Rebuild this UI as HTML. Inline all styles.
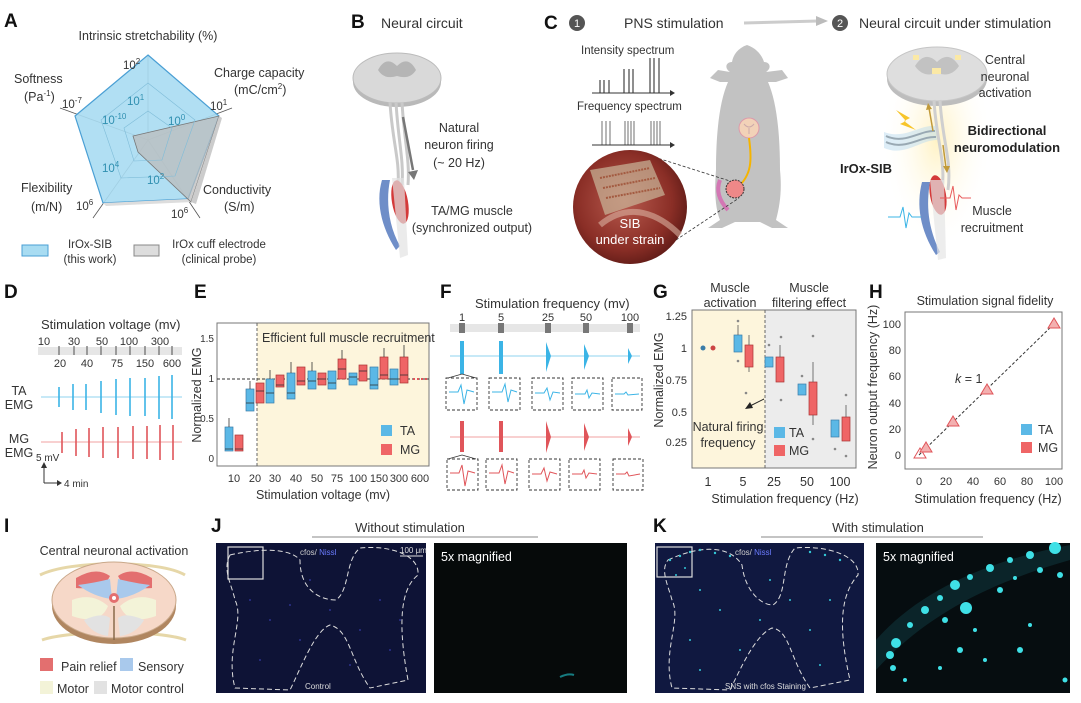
<!DOCTYPE html>
<html><head><meta charset="utf-8"><style>
html,body{margin:0;padding:0;background:#fff}
svg{display:block}
text{font-family:"Liberation Sans",sans-serif;fill:#333}
.L{font-family:"Liberation Sans Narrow","Liberation Sans",sans-serif;font-weight:bold;font-size:19px;fill:#111}
.t{font-size:12.5px}
.s{font-size:11.5px}
.ax{font-size:11px}
</style></head><body>
<svg width="1081" height="703" viewBox="0 0 1081 703" xmlns="http://www.w3.org/2000/svg">
<!-- ===== A ===== -->
<text class="L" x="4" y="27">A</text>
<text class="t" x="148" y="40" text-anchor="middle">Intrinsic stretchability (%)</text>
<text class="t" x="14" y="83">Softness</text>
<text class="t" x="24" y="101">(Pa<tspan font-size="8" dy="-5">-1</tspan><tspan dy="5">)</tspan></text>
<text class="t" x="214" y="77">Charge capacity</text>
<text class="t" x="234" y="94">(mC/cm<tspan font-size="8" dy="-5">2</tspan><tspan dy="5">)</tspan></text>
<text class="t" x="21" y="192">Flexibility</text>
<text class="t" x="31" y="211">(m/N)</text>
<text class="t" x="203" y="194">Conductivity</text>
<text class="t" x="224" y="211">(S/m)</text>
<g stroke="#555" stroke-width="0.8">
<line x1="148" y1="140" x2="148" y2="55"/><line x1="148" y1="140" x2="232" y2="108"/><line x1="148" y1="140" x2="60" y2="108"/><line x1="148" y1="140" x2="93" y2="218"/><line x1="148" y1="140" x2="200" y2="218"/>
</g>
<polygon points="148,55 219,116 188,199 103,203 75,116" fill="#a8dcf2" stroke="#4a9fd4" stroke-width="1.2" fill-opacity="0.9"/>
<polygon points="103,203 188,199 193,202 106,206" fill="#ddd"/>
<polygon points="133,136 219,116 191,202 138,152" fill="#bcbcbc" fill-opacity="0.75" stroke="#777" stroke-width="0.8"/>
<polygon points="219,116 222,118 196,204 191,202" fill="#ccc"/>
<g stroke="#7fbcd8" stroke-width="0.6" fill="none"><polygon points="148,83 195,120 175,176 121,178 101,120"/><polygon points="148,111 172,128 162,160 134,161 124,128"/></g>
<g class="s"><text x="123" y="69">10<tspan font-size="8" dy="-5">2</tspan></text><text x="210" y="110">10<tspan font-size="8" dy="-5">1</tspan></text><text x="62" y="108">10<tspan font-size="8" dy="-5">-7</tspan></text><text x="76" y="210">10<tspan font-size="8" dy="-5">6</tspan></text><text x="171" y="218">10<tspan font-size="8" dy="-5">6</tspan></text></g>
<g class="s"><text x="127" y="105" style="fill:#2f8fb0">10<tspan font-size="8" dy="-5">1</tspan></text><text x="102" y="124" style="fill:#2f8fb0">10<tspan font-size="8" dy="-5">-10</tspan></text><text x="168" y="125" style="fill:#2f8fb0">10<tspan font-size="8" dy="-5">0</tspan></text><text x="102" y="172" style="fill:#2f8fb0">10<tspan font-size="8" dy="-5">4</tspan></text><text x="147" y="184" style="fill:#2f8fb0">10<tspan font-size="8" dy="-5">2</tspan></text></g>
<rect x="22" y="245" width="26" height="11" fill="#a8dcf2" stroke="#4a9fd4"/>
<text class="s" x="90" y="248" text-anchor="middle">IrOx-SIB</text><text class="s" x="90" y="263" text-anchor="middle">(this work)</text>
<rect x="134" y="245" width="25" height="11" fill="#ddd" stroke="#888"/>
<text class="s" x="219" y="248" text-anchor="middle">IrOx cuff electrode</text><text class="s" x="219" y="263" text-anchor="middle">(clinical probe)</text>
<!-- ===== B ===== -->
<text class="L" x="351" y="28">B</text>
<text x="381" y="28" style="font-size:14px">Neural circuit</text>
<ellipse cx="397" cy="82" rx="44" ry="25" fill="#b9b9b9"/>
<ellipse cx="397" cy="78" rx="44" ry="25" fill="#d9d9d9" stroke="#bbb"/>
<path d="M378 70 q8 -15 19 -4 q11 -11 19 4 q-6 10 -19 6 q-13 4 -19 -6z" fill="#b5b5b5"/>
<path d="M390 102 C392 140 400 160 398 185 M396 102 C398 140 404 160 402 185 M402 102 C404 140 410 160 408 185" stroke="#c9c9c9" stroke-width="3" fill="none"/>
<path d="M403 117 L413 170" stroke="#777" stroke-width="2.5"/><polygon points="408,172 418,170 414,180" fill="#777"/>
<text class="t" x="459" y="132" text-anchor="middle">Natural</text><text class="t" x="459" y="149" text-anchor="middle">neuron firing</text><text class="t" x="459" y="167" text-anchor="middle">(~ 20 Hz)</text>
<path d="M382 180 C376 200 380 225 396 250 L400 246 C388 225 386 200 390 180Z" fill="#6f8ec8"/>
<ellipse cx="400" cy="202" rx="8" ry="22" fill="#d43a3a" transform="rotate(-10 400 202)"/>
<path d="M392 178 L404 178 L408 255 L400 258Z" fill="#e3e3e3" opacity="0.7"/>
<text class="t" x="472" y="215" text-anchor="middle">TA/MG muscle</text><text class="t" x="472" y="232" text-anchor="middle">(synchronized output)</text>
<!-- ===== C ===== -->
<text class="L" x="544" y="29">C</text>
<circle cx="577" cy="23" r="8" fill="#555"/><text x="577" y="27" text-anchor="middle" style="fill:#fff;font-size:11px">1</text>
<text x="624" y="28" style="font-size:14px">PNS stimulation</text>
<path d="M744 23 L818 21" stroke="#ccc" stroke-width="3"/><polygon points="816,16 828,21 816,26" fill="#bbb"/>
<circle cx="840" cy="23" r="8" fill="#555"/><text x="840" y="27" text-anchor="middle" style="fill:#fff;font-size:11px">2</text>
<text x="859" y="28" style="font-size:14px">Neural circuit under stimulation</text>
<text class="s" x="581" y="54">Intensity spectrum</text>
<g stroke="#333" stroke-width="1.1"><line x1="592" y1="93" x2="670" y2="93"/>
<line x1="600" y1="93" x2="600" y2="80"/><line x1="604" y1="93" x2="604" y2="80"/><line x1="609" y1="93" x2="609" y2="80"/>
<line x1="624" y1="93" x2="624" y2="69"/><line x1="629" y1="93" x2="629" y2="69"/><line x1="633" y1="93" x2="633" y2="69"/>
<line x1="650" y1="93" x2="650" y2="58"/><line x1="654" y1="93" x2="654" y2="58"/><line x1="659" y1="93" x2="659" y2="58"/>
<line x1="592" y1="145" x2="670" y2="145"/></g>
<g stroke="#333" stroke-width="0.7">
<line x1="602" y1="145" x2="602" y2="121"/><line x1="606" y1="145" x2="606" y2="121"/><line x1="610" y1="145" x2="610" y2="121"/>
<line x1="625" y1="145" x2="625" y2="121"/><line x1="628" y1="145" x2="628" y2="121"/><line x1="631" y1="145" x2="631" y2="121"/><line x1="634" y1="145" x2="634" y2="121"/>
<line x1="651" y1="145" x2="651" y2="121"/><line x1="654" y1="145" x2="654" y2="121"/><line x1="657" y1="145" x2="657" y2="121"/><line x1="660" y1="145" x2="660" y2="121"/></g>
<polygon points="670,90 675,93 670,96" fill="#333"/><polygon points="670,142 675,145 670,148" fill="#333"/>
<text class="s" x="577" y="110">Frequency spectrum</text>
<path d="M747 45 C738 48 733 55 732 62 C726 62 724 68 730 72 L718 70 L710 78 L720 82 L728 82 C720 100 716 130 716 170 C714 195 716 210 720 220 L708 228 L722 228 L735 222 L760 222 L772 228 L788 228 L776 220 C780 205 782 190 780 170 C780 130 776 100 768 82 L776 82 L788 78 L782 70 L766 72 C772 68 770 62 764 62 C762 55 756 48 747 45Z" fill="#c2c2c2"/>
<circle cx="749" cy="128" r="10" fill="#f2d2b8" stroke="#d9a"/><path d="M744 124 q5 6 10 0 M749 128 v6" stroke="#caa" fill="none"/>
<path d="M749 138 C752 160 752 175 737 188" stroke="#f5b400" stroke-width="2" fill="none"/>
<circle cx="735" cy="189" r="9" fill="#e88" stroke="#333" stroke-dasharray="2,1"/>
<path d="M720 180 q-6 15 8 30" stroke="#d4a" stroke-width="4" fill="none" opacity="0.6"/>
<line x1="654" y1="157" x2="730" y2="181" stroke="#333" stroke-dasharray="3,2" stroke-width="0.8"/>
<line x1="676" y1="240" x2="739" y2="198" stroke="#333" stroke-dasharray="3,2" stroke-width="0.8"/>
<defs><radialGradient id="ph" cx="0.45" cy="0.45" r="0.6"><stop offset="0" stop-color="#b85a4e"/><stop offset="0.7" stop-color="#8a2e26"/><stop offset="1" stop-color="#5c1a16"/></radialGradient>
<radialGradient id="gl" cx="0.5" cy="0.5" r="0.5"><stop offset="0" stop-color="#fff2c4"/><stop offset="1" stop-color="#fff" stop-opacity="0"/></radialGradient></defs>
<circle cx="630" cy="207" r="57" fill="url(#ph)"/>
<path d="M590 170 L650 160 L665 195 L605 215Z" fill="#c9b79a" opacity="0.7"/>
<path d="M600 178 L650 168 M603 188 L655 178 M606 198 L660 188" stroke="#a35a40" stroke-width="2" stroke-dasharray="2,1"/>
<path d="M600 225 C630 200 660 215 680 235" stroke="#d9b0a0" stroke-width="6" fill="none" opacity="0.6"/>
<text x="630" y="228" text-anchor="middle" style="fill:#fff;font-size:13px">SIB</text>
<text x="630" y="244" text-anchor="middle" style="fill:#fff;font-size:13px">under strain</text>
<!-- C2 -->
<ellipse cx="937" cy="140" rx="55" ry="110" fill="url(#gl)"/>
<ellipse cx="937" cy="79" rx="50" ry="27" fill="#bdbdbd"/>
<ellipse cx="937" cy="74" rx="50" ry="27" fill="#dedede" stroke="#c5c5c5"/>
<path d="M915 66 q10 -16 22 -4 q12 -12 22 4 q-8 12 -22 7 q-14 5 -22 -7z" fill="#c2c2c2"/>
<rect x="932" y="68" width="9" height="6" fill="#fbe9a6"/><rect x="913" y="55" width="6" height="5" fill="#fbe9a6"/><rect x="955" y="55" width="6" height="5" fill="#fbe9a6"/>
<path d="M934 100 C936 140 946 160 942 190 M940 100 C942 140 952 160 948 190" stroke="#cfcfcf" stroke-width="3" fill="none"/>
<path d="M886 136 C905 145 920 130 935 131 M886 142 C905 151 920 136 936 137" stroke="#777" stroke-width="2" fill="none"/>
<path d="M884 132 C905 140 920 124 936 126 L937 140 C920 140 905 157 884 148Z" fill="#bcdcf0" opacity="0.5"/>
<polygon points="896,110 910,118 904,121 916,130 900,124 906,121" fill="#f7c52a"/>
<path d="M933 131 L929 108" stroke="#c19a3a" stroke-width="1.5"/><polygon points="926,110 928,103 932,109" fill="#c19a3a"/>
<path d="M943 145 L946 168" stroke="#c19a3a" stroke-width="1.5"/><polygon points="943,166 947,173 950,166" fill="#c19a3a"/>
<path d="M922 182 C916 205 920 230 936 255 L940 252 C928 228 926 205 930 182Z" fill="#6f8ec8"/>
<ellipse cx="938" cy="195" rx="8" ry="20" fill="#d43a3a" transform="rotate(-10 938 195)"/>
<path d="M930 180 L944 180 L946 258 L938 260Z" fill="#e5e5e5" opacity="0.7"/>
<path d="M940 198 L950 198 L953 186 L956 210 L959 195 L962 198 L971 198" stroke="#e85b5b" stroke-width="1" fill="none"/>
<path d="M888 217 L900 217 L903 207 L906 228 L909 213 L912 217 L921 217" stroke="#3bb4e6" stroke-width="1" fill="none"/>
<text class="t" x="1005" y="64" text-anchor="middle">Central</text><text class="t" x="1005" y="81" text-anchor="middle">neuronal</text><text class="t" x="1005" y="97" text-anchor="middle">activation</text>
<text x="1007" y="135" text-anchor="middle" style="font-size:13px;font-weight:bold;fill:#222">Bidirectional</text>
<text x="1007" y="152" text-anchor="middle" style="font-size:13px;font-weight:bold;fill:#222">neuromodulation</text>
<text x="840" y="173" style="font-size:13px;font-weight:bold;fill:#222">IrOx-SIB</text>
<text class="t" x="992" y="215" text-anchor="middle">Muscle</text><text class="t" x="992" y="232" text-anchor="middle">recruitment</text>
<!-- ===== D ===== -->
<text class="L" x="4" y="298">D</text>
<text x="41" y="329" style="font-size:13px">Stimulation voltage (mv)</text>
<rect x="38" y="347" width="144" height="8" fill="#e6e6e6"/>
<g stroke="#666" stroke-width="1.2"><line x1="59" y1="346" x2="59" y2="355"/><line x1="74" y1="346" x2="74" y2="355"/><line x1="87" y1="346" x2="87" y2="355"/><line x1="101" y1="346" x2="101" y2="355"/><line x1="116" y1="346" x2="116" y2="355"/><line x1="130" y1="346" x2="130" y2="355"/><line x1="145" y1="346" x2="145" y2="355"/><line x1="159" y1="346" x2="159" y2="355"/><line x1="172" y1="346" x2="172" y2="355"/></g>
<g class="ax" text-anchor="middle"><text x="44" y="345">10</text><text x="74" y="345">30</text><text x="102" y="345">50</text><text x="129" y="345">100</text><text x="160" y="345">300</text>
<text x="60" y="367">20</text><text x="87" y="367">40</text><text x="117" y="367">75</text><text x="145" y="367">150</text><text x="172" y="367">600</text></g>
<text class="t" x="19" y="395" text-anchor="middle">TA</text><text class="t" x="19" y="409" text-anchor="middle">EMG</text>
<text class="t" x="19" y="443" text-anchor="middle">MG</text><text class="t" x="19" y="457" text-anchor="middle">EMG</text>
<line x1="41" y1="397" x2="182" y2="397" stroke="#8fd3ef" stroke-width="1"/>
<g stroke="#3bb4e6" stroke-width="1.6"><line x1="59" y1="387" x2="59" y2="407"/><line x1="73" y1="384" x2="73" y2="410"/><line x1="86" y1="384" x2="86" y2="410"/><line x1="101" y1="381" x2="101" y2="413"/><line x1="116" y1="379" x2="116" y2="415"/><line x1="130" y1="378" x2="130" y2="416"/><line x1="145" y1="378" x2="145" y2="416"/><line x1="159" y1="376" x2="159" y2="419"/><line x1="172" y1="375" x2="172" y2="419"/></g>
<line x1="41" y1="442" x2="182" y2="442" stroke="#f2a0a0" stroke-width="1"/>
<g stroke="#e0555a" stroke-width="1.6"><line x1="62" y1="432" x2="62" y2="453"/><line x1="76" y1="429" x2="76" y2="456"/><line x1="89" y1="428" x2="89" y2="457"/><line x1="103" y1="427" x2="103" y2="458"/><line x1="118" y1="427" x2="118" y2="458"/><line x1="133" y1="426" x2="133" y2="459"/><line x1="147" y1="426" x2="147" y2="459"/><line x1="160" y1="425" x2="160" y2="460"/><line x1="173" y1="425" x2="173" y2="460"/></g>
<text x="36" y="461" style="font-size:10px">5 mV</text>
<path d="M44 483 L44 466 M44 483 L58 483" stroke="#333" stroke-width="1"/><polygon points="41,468 44,462 47,468" fill="#333"/><polygon points="57,480 62,483 57,486" fill="#333"/>
<text x="64" y="487" style="font-size:10px">4 min</text>
<!-- ===== E ===== -->
<text class="L" x="194" y="298">E</text>
<rect x="257" y="323" width="172" height="143" fill="#fdf5dc"/>
<rect x="217" y="323" width="212" height="143" fill="none" stroke="#777" stroke-width="1"/>
<line x1="257" y1="323" x2="257" y2="466" stroke="#666" stroke-dasharray="3,2"/>
<line x1="217" y1="379" x2="429" y2="379" stroke="#333" stroke-dasharray="3,2"/>
<text x="262" y="342" style="font-size:12.5px">Efficient full muscle recruitment</text>
<g style="font-size:10px" text-anchor="end"><text x="214" y="342">1.5</text><text x="214" y="382">1</text><text x="214" y="422">0.5</text><text x="214" y="462">0</text></g>
<text class="t" transform="translate(201 395) rotate(-90)" text-anchor="middle">Normalized EMG</text>
<g class="ax" text-anchor="middle"><text x="234" y="482">10</text><text x="255" y="482">20</text><text x="275" y="482">30</text><text x="296" y="482">40</text><text x="317" y="482">50</text><text x="337" y="482">75</text><text x="358" y="482">100</text><text x="379" y="482">150</text><text x="399" y="482">300</text><text x="420" y="482">600</text></g>
<text class="t" x="323" y="499" text-anchor="middle">Stimulation voltage (mv)</text>
<g fill="#5bb8e6" stroke="#3a7ca8" stroke-width="0.7">
<rect x="225" y="427" width="8" height="24"/><rect x="246" y="389" width="8" height="22"/><rect x="266" y="379" width="8" height="24"/><rect x="287" y="373" width="8" height="26"/><rect x="308" y="371" width="8" height="18"/><rect x="328" y="371" width="8" height="18"/><rect x="349" y="373" width="8" height="12"/><rect x="370" y="367" width="8" height="22"/><rect x="390" y="369" width="8" height="16"/></g>
<g fill="#ef6566" stroke="#a33" stroke-width="0.7">
<rect x="235" y="435" width="8" height="16"/><rect x="256" y="383" width="8" height="20"/><rect x="276" y="375" width="8" height="12"/><rect x="297" y="367" width="8" height="18"/><rect x="318" y="373" width="8" height="12"/><rect x="338" y="359" width="8" height="20"/><rect x="359" y="365" width="8" height="16"/><rect x="380" y="357" width="8" height="22"/><rect x="400" y="357" width="8" height="26"/></g>
<g stroke="#333" stroke-width="0.8"><line x1="225" y1="449" x2="233" y2="449"/><line x1="246" y1="403" x2="254" y2="403"/><line x1="266" y1="393" x2="274" y2="393"/><line x1="287" y1="393" x2="295" y2="393"/><line x1="308" y1="381" x2="316" y2="381"/><line x1="328" y1="383" x2="336" y2="383"/><line x1="349" y1="377" x2="357" y2="377"/><line x1="370" y1="385" x2="378" y2="385"/><line x1="390" y1="379" x2="398" y2="379"/>
<line x1="235" y1="449" x2="243" y2="449"/><line x1="256" y1="391" x2="264" y2="391"/><line x1="276" y1="385" x2="284" y2="385"/><line x1="297" y1="381" x2="305" y2="381"/><line x1="318" y1="379" x2="326" y2="379"/><line x1="338" y1="369" x2="346" y2="369"/><line x1="359" y1="371" x2="367" y2="371"/><line x1="380" y1="375" x2="388" y2="375"/><line x1="400" y1="375" x2="408" y2="375"/>
<line x1="229" y1="427" x2="229" y2="418"/><line x1="250" y1="389" x2="250" y2="381"/><line x1="270" y1="379" x2="270" y2="370"/><line x1="291" y1="373" x2="291" y2="362"/><line x1="312" y1="371" x2="312" y2="362"/><line x1="342" y1="359" x2="342" y2="350"/><line x1="384" y1="357" x2="384" y2="348"/><line x1="404" y1="357" x2="404" y2="345"/></g>
<line x1="413" y1="379" x2="428" y2="379" stroke="#e0555a" stroke-width="2" stroke-dasharray="2,2"/>
<rect x="381" y="425" width="11" height="11" fill="#5bb8e6"/><text class="t" x="400" y="435">TA</text>
<rect x="381" y="444" width="11" height="11" fill="#ef6566"/><text class="t" x="400" y="454">MG</text>
<!-- ===== F ===== -->
<text class="L" x="440" y="298">F</text>
<text x="475" y="308" style="font-size:13px">Stimulation frequency (mv)</text>
<g class="ax" text-anchor="middle"><text x="462" y="321">1</text><text x="501" y="321">5</text><text x="548" y="321">25</text><text x="586" y="321">50</text><text x="630" y="321">100</text></g>
<rect x="450" y="324" width="190" height="8" fill="#e6e6e6"/>
<g fill="#777"><rect x="459" y="323" width="6" height="10"/><rect x="498" y="323" width="6" height="10"/><rect x="545" y="323" width="6" height="10"/><rect x="583" y="323" width="6" height="10"/><rect x="627" y="323" width="6" height="10"/></g>
<line x1="450" y1="356" x2="640" y2="356" stroke="#8fd3ef"/>
<g fill="#3bb4e6"><rect x="460" y="341" width="4" height="33"/><rect x="499" y="341" width="4" height="33"/><path d="M546 342 L551 356 L546 372Z"/><path d="M584 344 L589 356 L584 370Z"/><path d="M628 348 L632 356 L628 364Z"/></g>
<line x1="450" y1="437" x2="640" y2="437" stroke="#f2a0a0"/>
<g fill="#e0555a"><rect x="460" y="421" width="4" height="31"/><rect x="499" y="421" width="4" height="31"/><path d="M546 421 L551 437 L546 453Z"/><path d="M584 423 L589 437 L584 451Z"/><path d="M628 428 L632 437 L628 446Z"/></g>
<path d="M448 378 L462 374 L476 378" stroke="#333" fill="none" stroke-width="0.8"/>
<path d="M448 459 L462 455 L476 459" stroke="#333" fill="none" stroke-width="0.8"/>
<g fill="none" stroke="#333" stroke-dasharray="3,2" stroke-width="0.9">
<rect x="446" y="378" width="31" height="32"/><rect x="489" y="378" width="31" height="32"/><rect x="532" y="378" width="31" height="32"/><rect x="572" y="378" width="31" height="32"/><rect x="612" y="378" width="30" height="32"/>
<rect x="447" y="459" width="31" height="31"/><rect x="486" y="459" width="31" height="31"/><rect x="529" y="459" width="31" height="31"/><rect x="569" y="459" width="31" height="31"/><rect x="613" y="459" width="30" height="31"/></g>
<g fill="none" stroke="#3bb4e6" stroke-width="1"><path d="M449 392 L458 392 L461 385 L464 404 L467 390 L474 392"/><path d="M492 392 L502 392 L505 384 L508 402 L511 390 L517 392"/><path d="M535 393 L544 393 L547 388 L550 400 L553 392 L560 393"/><path d="M575 394 L585 394 L587 390 L589 398 L592 393 L600 394"/><path d="M615 394 L624 394 L626 392 L628 395 L639 394"/></g>
<g fill="none" stroke="#e0555a" stroke-width="1"><path d="M450 473 L459 473 L462 465 L465 486 L468 471 L475 473"/><path d="M489 473 L499 473 L502 465 L505 484 L508 471 L514 473"/><path d="M532 474 L541 474 L544 468 L547 481 L550 472 L557 474"/><path d="M572 474 L582 474 L584 470 L586 478 L589 473 L597 474"/><path d="M616 474 L625 474 L627 472 L629 476 L640 474"/></g>
<!-- ===== G ===== -->
<text class="L" x="653" y="298">G</text>
<text class="t" x="730" y="292" text-anchor="middle">Muscle</text><text class="t" x="730" y="307" text-anchor="middle">activation</text>
<text class="t" x="809" y="292" text-anchor="middle">Muscle</text><text class="t" x="809" y="307" text-anchor="middle">filtering effect</text>
<rect x="692" y="310" width="73" height="158" fill="#fdf5dc"/>
<rect x="765" y="310" width="91" height="158" fill="#ececec"/>
<rect x="692" y="310" width="164" height="158" fill="none" stroke="#777"/>
<line x1="765" y1="310" x2="765" y2="468" stroke="#666" stroke-dasharray="3,2"/>
<g class="ax" text-anchor="end"><text x="687" y="320">1.25</text><text x="687" y="352">1</text><text x="687" y="384">0.75</text><text x="687" y="416">0.5</text><text x="687" y="446">0.25</text></g>
<text class="t" transform="translate(663 380) rotate(-90)" text-anchor="middle">Normalized EMG</text>
<g class="t" text-anchor="middle"><text x="708" y="486">1</text><text x="743" y="486">5</text><text x="774" y="486">25</text><text x="807" y="486">50</text><text x="840" y="486">100</text></g>
<text class="t" x="785" y="503" text-anchor="middle">Stimulation frequency (Hz)</text>
<circle cx="703" cy="348" r="2.5" fill="#3a7ca8"/><circle cx="713" cy="348" r="2.5" fill="#c44"/>
<g fill="#5bb8e6" stroke="#3a7ca8" stroke-width="0.7"><rect x="734" y="335" width="8" height="17"/><rect x="765" y="357" width="8" height="10"/><rect x="798" y="384" width="8" height="11"/><rect x="831" y="420" width="8" height="17"/></g>
<g fill="#ef6566" stroke="#a33" stroke-width="0.7"><rect x="745" y="345" width="8" height="22"/><rect x="776" y="357" width="8" height="25"/><rect x="809" y="382" width="8" height="33"/><rect x="842" y="417" width="8" height="24"/></g>
<g stroke="#555" stroke-width="0.8"><line x1="738" y1="335" x2="738" y2="325"/><line x1="749" y1="345" x2="749" y2="335"/><line x1="780" y1="357" x2="780" y2="345"/><line x1="813" y1="382" x2="813" y2="362"/><line x1="846" y1="417" x2="846" y2="405"/><line x1="749" y1="367" x2="749" y2="372"/><line x1="813" y1="415" x2="813" y2="425"/></g>
<g fill="#888"><circle cx="738" cy="321" r="1.3"/><circle cx="738" cy="361" r="1.3"/><circle cx="746" cy="393" r="1.3"/><circle cx="769" cy="345" r="1.3"/><circle cx="781" cy="337" r="1.3"/><circle cx="781" cy="400" r="1.3"/><circle cx="802" cy="376" r="1.3"/><circle cx="813" cy="336" r="1.3"/><circle cx="813" cy="439" r="1.3"/><circle cx="835" cy="449" r="1.3"/><circle cx="846" cy="395" r="1.3"/><circle cx="846" cy="456" r="1.3"/></g>
<text class="t" x="728" y="431" text-anchor="middle">Natural firing</text><text class="t" x="728" y="447" text-anchor="middle">frequency</text>
<line x1="764" y1="399" x2="750" y2="406" stroke="#222"/><polygon points="745,409 750,402 753,408" fill="#222"/>
<rect x="774" y="427" width="11" height="11" fill="#5bb8e6"/><text class="t" x="789" y="437">TA</text>
<rect x="774" y="445" width="11" height="11" fill="#ef6566"/><text class="t" x="789" y="455">MG</text>
<!-- ===== H ===== -->
<text class="L" x="869" y="298">H</text>
<text x="985" y="305" text-anchor="middle" style="font-size:12.5px">Stimulation signal fidelity</text>
<rect x="905" y="312" width="157" height="157" fill="none" stroke="#777"/>
<g class="ax" text-anchor="end"><text x="901" y="328">100</text><text x="901" y="354">80</text><text x="901" y="380">60</text><text x="901" y="407">40</text><text x="901" y="433">20</text><text x="901" y="459">0</text></g>
<g class="ax" text-anchor="middle"><text x="919" y="485">0</text><text x="946" y="485">20</text><text x="973" y="485">40</text><text x="1000" y="485">60</text><text x="1027" y="485">80</text><text x="1054" y="485">100</text></g>
<text class="t" transform="translate(877 387) rotate(-90)" text-anchor="middle">Neuron output frequency (Hz)</text>
<text class="t" x="988" y="503" text-anchor="middle">Stimulation frequency (Hz)</text>
<line x1="919" y1="455" x2="1054" y2="324" stroke="#333" stroke-dasharray="3,2"/>
<text class="t" x="955" y="383"><tspan font-style="italic">k</tspan> = 1</text>
<g fill="#f3b0b0" stroke="#e0555a" stroke-width="1"><polygon points="920,448 914,458 926,458" fill="none"/><polygon points="926,442 920,452 932,452"/><polygon points="953,416 947,426 959,426"/><polygon points="987,384 981,394 993,394"/><polygon points="1054,318 1048,328 1060,328"/></g>
<rect x="1021" y="424" width="11" height="11" fill="#5bb8e6"/><text class="t" x="1038" y="434">TA</text>
<rect x="1021" y="442" width="11" height="11" fill="#ef6566"/><text class="t" x="1038" y="452">MG</text>
<!-- ===== I ===== -->
<text class="L" x="4" y="532">I</text>
<text class="t" x="114" y="555" text-anchor="middle">Central neuronal activation</text>
<path d="M40 575 C70 560 160 560 185 575 M42 640 C70 630 160 630 186 640" stroke="#e6d7a8" stroke-width="3" fill="none"/>
<ellipse cx="114" cy="606" rx="62" ry="38" fill="#b08660"/>
<ellipse cx="114" cy="600" rx="62" ry="38" fill="#f6d8c8" stroke="#c9a88a"/>
<path d="M76 578 q20 -12 34 -2 q-6 14 -34 12z M152 578 q-20 -12 -34 -2 q6 14 34 12z" fill="#e36f6f"/>
<path d="M78 585 q16 -2 32 -6 l2 20 q-18 -2 -34 -14z M150 585 q-16 -2 -32 -6 l-2 20 q18 -2 34 -14z" fill="#a9c9ec"/>
<path d="M72 600 q20 -8 36 6 q-8 20 -36 10z M156 600 q-20 -8 -36 6 q8 20 36 10z" fill="#f3f3d8"/>
<path d="M84 620 q18 -8 26 -2 l-2 18 q-16 -2 -24 -16z M144 620 q-18 -8 -26 -2 l2 18 q16 -2 24 -16z" fill="#e2e2e2"/>
<circle cx="114" cy="598" r="5" fill="#e36f6f"/><circle cx="114" cy="598" r="2" fill="#fff"/>
<line x1="114" y1="606" x2="114" y2="640" stroke="#8a6a4a" stroke-width="1.5"/>
<rect x="40" y="658" width="13" height="13" fill="#e36f6f"/><text class="t" x="61" y="671">Pain relief</text>
<rect x="120" y="658" width="13" height="13" fill="#a9c9ec"/><text class="t" x="138" y="671">Sensory</text>
<rect x="40" y="681" width="13" height="13" fill="#f3f3d8"/><text class="t" x="57" y="693">Motor</text>
<rect x="94" y="681" width="13" height="13" fill="#e2e2e2"/><text class="t" x="111" y="693">Motor control</text>
<!-- ===== J ===== -->
<text class="L" x="211" y="532">J</text>
<text x="410" y="532" text-anchor="middle" style="font-size:13px">Without stimulation</text>
<line x1="312" y1="537" x2="538" y2="537" stroke="#888"/>
<rect x="216" y="543" width="210" height="150" fill="#0e1336"/>
<path d="M230 555 C260 548 290 548 300 560 C300 590 320 600 336 600 C350 590 345 560 360 548 C390 545 420 555 418 575 C405 585 395 610 408 680 L370 688 C350 660 350 630 330 625 C315 630 300 670 290 690 L235 688 C225 650 245 620 235 600 C232 585 222 570 230 555Z" fill="none" stroke="#ddd" stroke-width="1" stroke-dasharray="5,3"/>
<g fill="#3a3fb0" opacity="0.7"><circle cx="250" cy="600" r="1"/><circle cx="270" cy="620" r="1"/><circle cx="300" cy="640" r="1"/><circle cx="330" cy="610" r="1"/><circle cx="360" cy="630" r="1"/><circle cx="380" cy="600" r="1"/><circle cx="390" cy="650" r="1"/><circle cx="260" cy="660" r="1"/><circle cx="310" cy="580" r="1"/><circle cx="350" cy="665" r="1"/><circle cx="290" cy="605" r="1"/><circle cx="400" cy="620" r="1"/></g>
<rect x="228" y="547" width="35" height="32" fill="none" stroke="#ddd" stroke-width="1.2"/>
<text x="300" y="555" style="font-size:8px;fill:#ccc">cfos/<tspan style="fill:#6b7cff"> Nissl</tspan></text>
<text x="400" y="553" style="font-size:8px;fill:#ddd">100 μm</text><line x1="400" y1="556" x2="423" y2="556" stroke="#ddd"/>
<text x="305" y="689" style="font-size:8px;fill:#ddd">Control</text>
<rect x="434" y="543" width="193" height="150" fill="#060a0a"/>
<text x="441" y="561" style="font-size:12.5px;fill:#fff">5x magnified</text>
<path d="M560 677 q8 -4 14 -2" stroke="#167c80" stroke-width="2" fill="none"/>
<!-- ===== K ===== -->
<text class="L" x="653" y="532">K</text>
<text x="878" y="532" text-anchor="middle" style="font-size:13px">With stimulation</text>
<line x1="761" y1="537" x2="983" y2="537" stroke="#888"/>
<rect x="655" y="543" width="209" height="150" fill="#101840"/>
<path d="M668 560 C700 545 730 545 742 565 C745 590 760 605 773 605 C788 595 780 565 795 548 C825 545 860 555 858 575 C845 590 835 615 850 680 L810 688 C790 660 790 630 772 628 C755 635 740 670 730 690 L672 688 C662 650 682 620 672 600 C668 585 660 570 668 560Z" fill="none" stroke="#ddd" stroke-width="1" stroke-dasharray="5,3"/>
<g fill="#33c8d6"><circle cx="670" cy="560" r="1.2"/><circle cx="680" cy="556" r="1.2"/><circle cx="690" cy="552" r="1.2"/><circle cx="700" cy="550" r="1.2"/><circle cx="715" cy="553" r="1.2"/><circle cx="730" cy="556" r="1.2"/><circle cx="810" cy="552" r="1.2"/><circle cx="825" cy="555" r="1.2"/><circle cx="840" cy="560" r="1.2"/><circle cx="700" cy="590" r="1"/><circle cx="720" cy="610" r="1"/><circle cx="760" cy="620" r="1"/><circle cx="790" cy="600" r="1"/><circle cx="810" cy="630" r="1"/><circle cx="690" cy="640" r="1"/><circle cx="740" cy="650" r="1"/><circle cx="830" cy="600" r="1"/><circle cx="770" cy="580" r="1"/><circle cx="700" cy="670" r="1"/><circle cx="820" cy="665" r="1"/><circle cx="676" cy="575" r="1"/><circle cx="685" cy="568" r="1"/></g>
<rect x="657" y="547" width="35" height="30" fill="none" stroke="#ddd" stroke-width="1.2"/>
<text x="735" y="555" style="font-size:8px;fill:#ccc">cfos/<tspan style="fill:#6b7cff"> Nissl</tspan></text>
<text x="725" y="689" style="font-size:8px;fill:#ddd">SNS with cfos Staining</text>
<rect x="876" y="543" width="194" height="150" fill="#060d10"/>
<path d="M876 640 C920 590 990 560 1070 545 L1070 560 C1000 580 930 610 876 670Z" fill="#0c2a30" opacity="0.8"/>
<text x="883" y="561" style="font-size:12.5px;fill:#fff">5x magnified</text>
<g fill="#3fe0e6"><circle cx="890" cy="655" r="4"/><circle cx="896" cy="643" r="5"/><circle cx="910" cy="625" r="3"/><circle cx="925" cy="610" r="4"/><circle cx="940" cy="598" r="3"/><circle cx="955" cy="585" r="5"/><circle cx="970" cy="577" r="3"/><circle cx="990" cy="568" r="4"/><circle cx="1010" cy="560" r="3"/><circle cx="1030" cy="555" r="4"/><circle cx="1055" cy="548" r="6"/><circle cx="966" cy="608" r="6"/><circle cx="945" cy="620" r="3"/><circle cx="1000" cy="590" r="3"/><circle cx="1040" cy="570" r="3"/><circle cx="1060" cy="575" r="3"/><circle cx="960" cy="650" r="3"/><circle cx="985" cy="660" r="2"/><circle cx="1020" cy="650" r="3"/><circle cx="1030" cy="625" r="2"/><circle cx="905" cy="680" r="2"/><circle cx="1065" cy="680" r="2.5"/><circle cx="940" cy="668" r="2"/><circle cx="893" cy="668" r="3"/><circle cx="1015" cy="578" r="2"/><circle cx="975" cy="630" r="2"/></g>
</svg>
</body></html>
